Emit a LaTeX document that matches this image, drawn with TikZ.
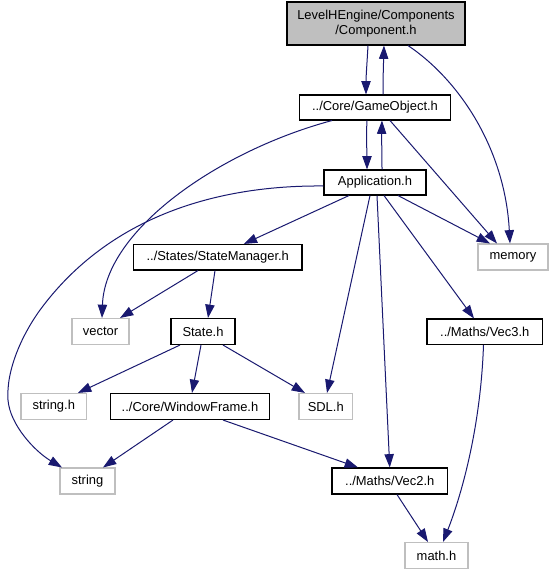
\documentclass[tikz,border=0pt]{standalone}
\usepackage{fontspec}
\setmainfont{Liberation Sans}
\usetikzlibrary{arrows.meta,calc}
\definecolor{edgec}{HTML}{191970}
\definecolor{greyb}{HTML}{BFBFBF}
\begin{document}
\begin{tikzpicture}[x=0.75pt,y=-0.75pt,
  box/.style={draw=black,line width=0.8pt,fill=white,inner sep=0pt,
    font=\fontsize{9.7}{11.3}\selectfont,align=center},
  ext/.style={box,draw=greyb},
  mainbox/.style={box,fill=greyb},
  sz/.style 2 args={minimum width=#1*0.75pt,minimum height=#2*0.75pt},
  edge/.style={draw=edgec,line width=0.75pt,-{Triangle[length=10pt,width=7pt]}}]
\useasboundingbox (0,0) rectangle (553,575);
\fill[white] (0,0) rectangle (553,575);

\node[mainbox,sz={178}{43}] (comp) at (376,23.5) {LevelHEngine/Components\\/Component.h};
\node[box,sz={151}{25}] (go) at (375,107.5) {../Core/GameObject.h};
\node[box,sz={102}{25}] (app) at (375,182.5) {Application.h};
\node[ext,sz={70}{26}] (mem) at (513,257) {memory};
\node[box,sz={168.5}{25.5}] (sm) at (217.75,257.25) {../States/StateManager.h};
\node[ext,sz={57}{26}] (vec) at (100.5,331.5) {vector};
\node[box,sz={64}{26}] (state) at (203,331.5) {State.h};
\node[box,sz={115.5}{25.5}] (v3) at (484.75,331.75) {../Maths/Vec3.h};
\node[ext,sz={65.5}{26}] (strh) at (53.75,406.5) {string.h};
\node[box,sz={159}{26}] (wf) at (190,406.5) {../Core/WindowFrame.h};
\node[ext,sz={53.5}{26}] (sdl) at (325.75,406.5) {SDL.h};
\node[ext,sz={55}{26}] (str) at (87.5,481) {string};
\node[box,sz={115.5}{26}] (v2) at (389.75,481) {../Maths/Vec2.h};
\node[ext,sz={63}{26}] (math) at (436.5,555.5) {math.h};

% Component <-> GameObject
\draw[edge] ($(comp.south)+(-8,0)$) .. controls +(-1,18) and +(0,-18) .. ($(go.north)+(-9,0)$);
\draw[edge] ($(go.north)+(8,0)$) .. controls +(0,-18) and +(-0.5,18) .. ($(comp.south)+(8,0)$);
% Component -> memory
\draw[edge] ($(comp.south)+(32,0)$) .. controls +(52,35) and +(-5,-94) .. ($(mem.north)+(-3,0)$);
% GameObject <-> Application
\draw[edge] ($(go.south)+(-8,0)$) .. controls +(-1,18) and +(0,-18) .. ($(app.north)+(-8,0)$);
\draw[edge] ($(app.north)+(7,0)$) .. controls +(0,-18) and +(-0.5,18) .. ($(go.south)+(7,0)$);
% GameObject -> vector, memory
\draw[edge] ($(go.south)+(-43,0)$) .. controls +(-112,30) and +(3,-88.5) .. ($(vec.north)+(1.5,0)$);
\draw[edge] ($(go.south)+(15,0)$) -- ($(mem.north)+(-16,0)$);
% Application -> ...
\draw[edge] ($(app.south)+(-26,0)$) -- ($(sm.north)+(26,0)$);
\draw[edge] ($(app.south)+(23,0)$) -- ($(mem.north)+(-23,0)$);
\draw[edge] ($(app.west)+(0,3.5)$) .. controls +(-104,-1) and +(70,-95) .. (40,310)
  .. controls +(-18,25) and +(-2,-30) .. (8,400)
  .. controls +(2,25) and +(-27,-16) .. ($(str.north)+(-25.5,0)$);
\draw[edge] ($(app.south)+(-5,0)$) -- ($(sdl.north)+(1.25,0)$);
\draw[edge] ($(app.south)+(2,0)$) -- ($(v2.north)+(0,0)$);
\draw[edge] ($(app.south)+(9,0)$) -- ($(v3.north)+(-10.75,0)$);
% StateManager -> ...
\draw[edge] ($(sm.south)+(-19.75,0)$) -- ($(vec.north)+(19.5,0)$);
\draw[edge] ($(sm.south)+(-2.75,0)$) -- ($(state.north)+(5,0)$);
% State.h -> ...
\draw[edge] ($(state.south)+(-23,0)$) -- ($(strh.north)+(24.25,0)$);
\draw[edge] ($(state.south)+(-2,0)$) -- ($(wf.north)+(2,0)$);
\draw[edge] ($(state.south)+(20,0)$) -- ($(sdl.north)+(-20.75,0)$);
% WindowFrame -> ...
\draw[edge] ($(wf.south)+(-17,0)$) -- ($(str.north)+(15.5,0)$);
\draw[edge] ($(wf.south)+(33,0)$) -- ($(v2.north)+(-31.75,0)$);
% Vec2, Vec3 -> math.h
\draw[edge] ($(v2.south)+(7.25,0)$) -- ($(math.north)+(-8.5,0)$);
\draw[edge] ($(v3.south)+(-1.25,0)$) .. controls +(-3,86) and +(17,-43) .. ($(math.north)+(6.5,0)$);
\end{tikzpicture}
\end{document}
